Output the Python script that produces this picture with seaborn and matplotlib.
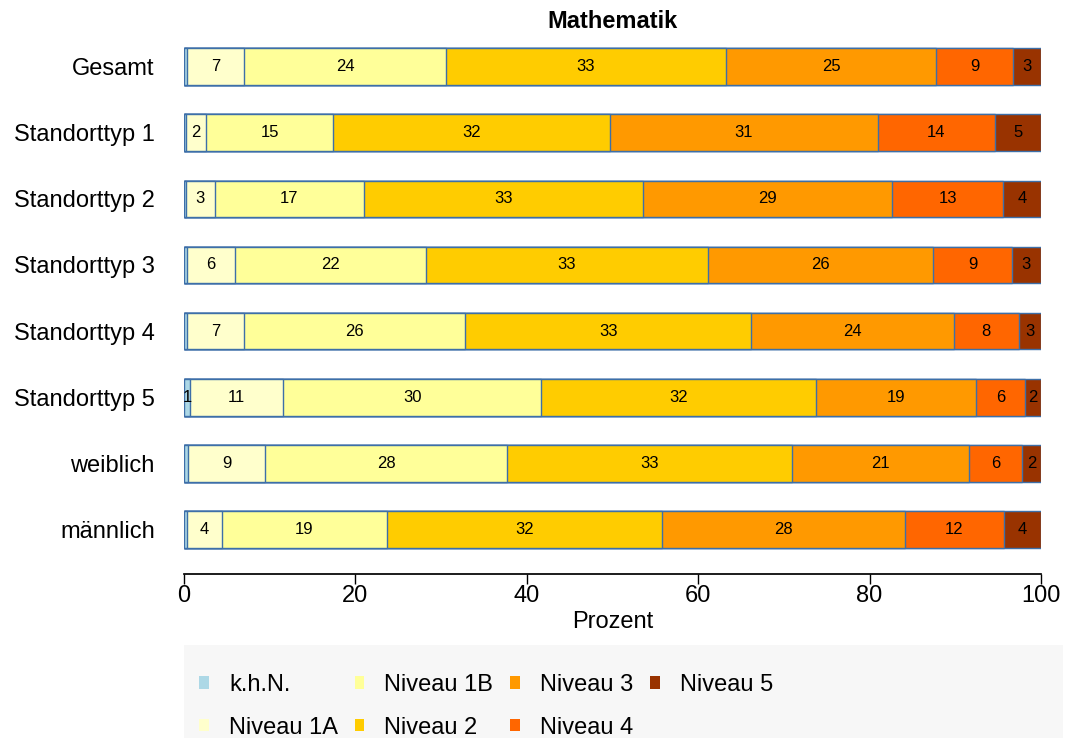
import numpy as np
import pandas as pd
import matplotlib
matplotlib.use("Agg")
import matplotlib.pyplot as plt
from matplotlib.patches import Patch, Rectangle
import seaborn as sns

# ─── DATA ───────────────────────────────────────────────
gruppen = ["Gesamt", "Standorttyp 1", "Standorttyp 2", "Standorttyp 3",
           "Standorttyp 4", "Standorttyp 5", "weiblich", "männlich"]
stufen = ["k.h.N.", "Niveau 1A", "Niveau 1B", "Niveau 2",
          "Niveau 3", "Niveau 4", "Niveau 5"]

khn       = [0.4, 0.2, 0.2, 0.3, 0.4, 0.7, 0.5, 0.3]
niveau_1a = [6.6, 2.4, 3.4, 5.6, 6.6, 10.9, 9.0, 4.1]
niveau_1b = [23.6, 14.8, 17.4, 22.3, 25.8, 30.1, 28.2, 19.3]
niveau_2  = [32.6, 32.3, 32.6, 32.9, 33.4, 32.0, 33.2, 32.1]
niveau_3  = [24.6, 31.3, 29.0, 26.3, 23.6, 18.7, 20.7, 28.3]
niveau_4  = [8.9, 13.6, 13.0, 9.2, 7.6, 5.7, 6.2, 11.6]
niveau_5  = [3.3, 5.4, 4.4, 3.4, 2.6, 1.9, 2.2, 4.3]

farben = ["#ADD8E6", "#FFFFCC", "#FFFF99", "#FFCC00",
          "#FF9900", "#FF6600", "#993300"]
rand = "#3D6FA8"

# ─── TABELLE ────────────────────────────────────────────
df = pd.DataFrame({"Gruppe": gruppen, "k.h.N.": khn, "Niveau 1A": niveau_1a,
                   "Niveau 1B": niveau_1b, "Niveau 2": niveau_2,
                   "Niveau 3": niveau_3, "Niveau 4": niveau_4,
                   "Niveau 5": niveau_5})
cum = df[stufen].cumsum(axis=1)

sns.set_theme(style="white")
plt.rcParams['font.family'] = ['Liberation Sans', 'DejaVu Sans']
plt.rcParams['text.color'] = 'black'
plt.rcParams['axes.labelcolor'] = 'black'
plt.rcParams['xtick.color'] = 'black'
plt.rcParams['ytick.color'] = 'black'

fig = plt.figure(figsize=(10.66, 7.38), dpi=100)
ax = fig.add_axes([184/1066, 1 - 574/738, (1041-184)/1066, (574-40)/738])

# gestapelte Balken: von hinten nach vorne zeichnen
for stufe, farbe in reversed(list(zip(stufen, farben))):
    sns.barplot(x=cum[stufe], y=df["Gruppe"], orient="h", color=farbe,
                width=0.55, edgecolor=rand, linewidth=1.0, ax=ax,
                saturation=1)

# Beschriftungen
for i in range(len(gruppen)):
    for stufe in stufen:
        v = df.loc[i, stufe]
        lab = int(round(v))
        if lab >= 1:
            mitte = cum.loc[i, stufe] - v / 2
            ax.text(mitte, i, str(lab), ha="center", va="center",
                    fontsize=12, color="black")

ax.set_xlim(0, 100)
ax.set_ylim(7.67, -0.4)
ax.set_xticks([0, 20, 40, 60, 80, 100])
ax.tick_params(axis="x", labelsize=17, length=7, width=1, direction="out",
               bottom=True, pad=1)
ax.tick_params(axis="y", labelsize=17, length=0, pad=21)
for s in ["top", "right", "left"]:
    ax.spines[s].set_visible(False)
ax.spines["bottom"].set_bounds(0, 100)
ax.spines["bottom"].set_color("black")
ax.set_ylabel("")
ax.set_xlabel("Prozent", fontsize=17, labelpad=3)
ax.set_title("Mathematik", fontsize=17, fontweight="bold", pad=9)

# Legende mit grauem Hintergrund
fig.patches.append(Rectangle((184/1066, 0), (1063-184)/1066, 1 - 645/738,
                             transform=fig.transFigure, facecolor="#F7F7F7",
                             edgecolor="none", zorder=0))
handles = [Patch(facecolor=f, edgecolor="none") for f in farben]
fig.legend(handles, stufen, loc="upper left",
           bbox_to_anchor=(199/1066, 1 - 674/738), ncol=4, frameon=False,
           fontsize=17, handlelength=0.42, handleheight=0.42,
           handletextpad=0.85, columnspacing=0.7, labelspacing=0.87,
           borderpad=0, borderaxespad=0)

plt.savefig("out.png", dpi=100)
